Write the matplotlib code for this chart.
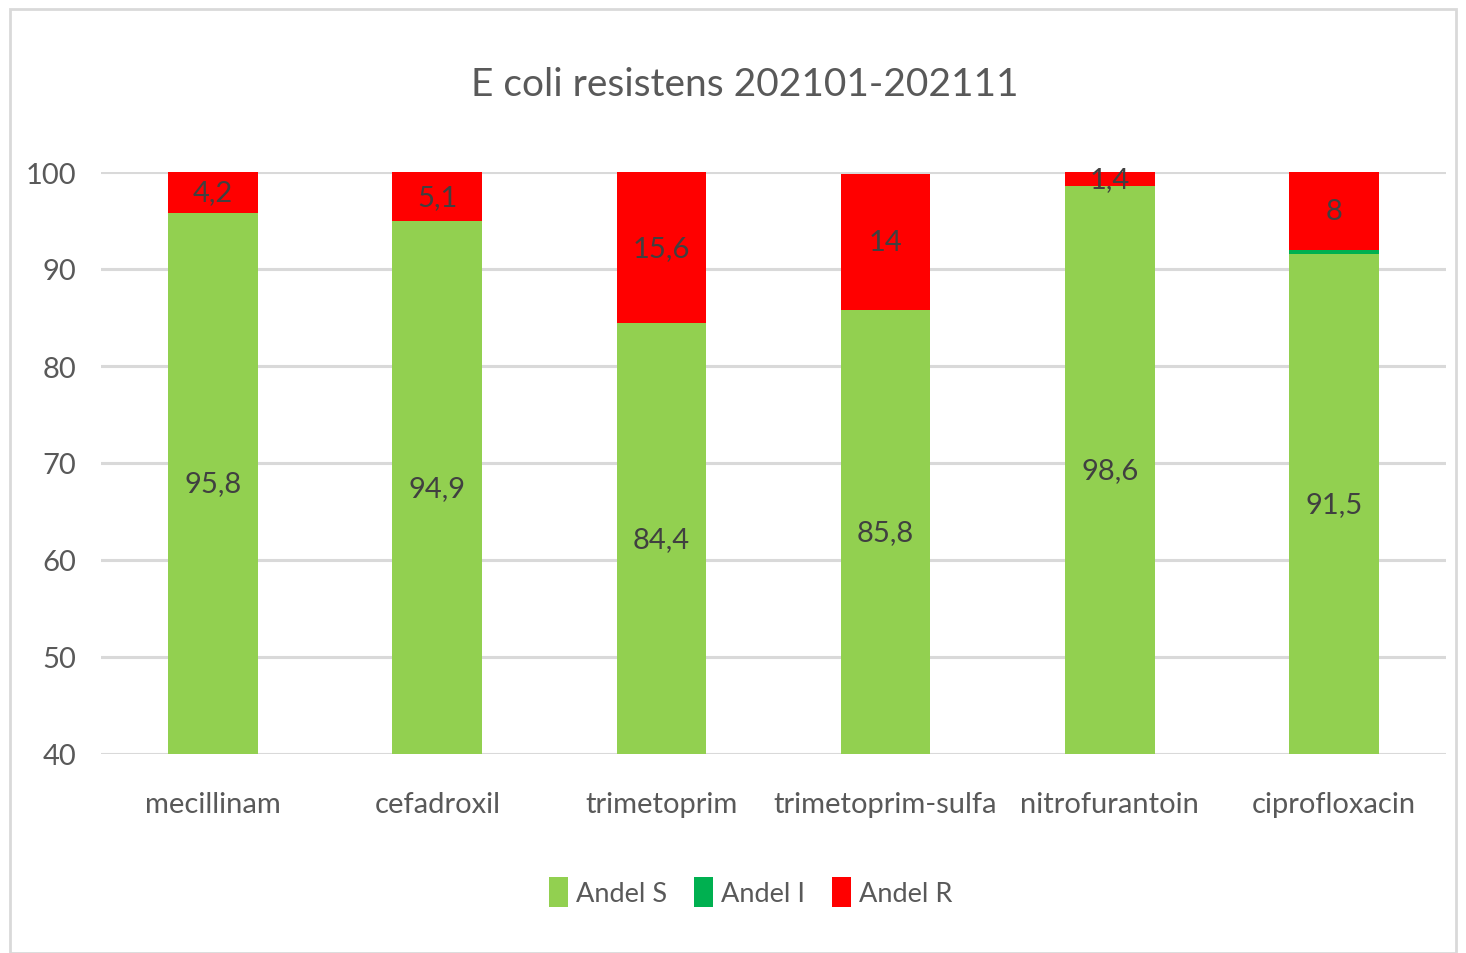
import matplotlib
matplotlib.use("Agg")
import matplotlib.pyplot as plt
import numpy as np
from matplotlib.patches import Rectangle

plt.rcParams['font.family'] = ['Lato', 'DejaVu Sans']

categories = ['mecillinam', 'cefadroxil', 'trimetoprim', 'trimetoprim-sulfa',
              'nitrofurantoin', 'ciprofloxacin']
andel_s = [95.8, 94.9, 84.4, 85.8, 98.6, 91.5]
andel_i = [0.0, 0.0, 0.0, 0.0, 0.0, 0.5]
andel_r = [4.2, 5.1, 15.6, 14, 1.4, 8]
series_names = ['Andel S', 'Andel I', 'Andel R']
colors = ['#92d050', '#00b050', '#ff0000']

fig = plt.figure(figsize=(14.66, 9.54), dpi=100)
ax = fig.add_axes([101 / 1466, 1 - 755 / 954, (1446 - 101) / 1466, (755 - 173) / 954])

x = np.arange(len(categories))
s = np.array(andel_s)
i = np.array(andel_i)
r = np.array(andel_r)
w = 0.4
ax.bar(x, s, w, color=colors[0], label=series_names[0], zorder=3)
ax.bar(x, i, w, bottom=s, color=colors[1], label=series_names[1], zorder=3)
ax.bar(x, r, w, bottom=s + i, color=colors[2], label=series_names[2], zorder=3)

ax.set_ylim(40, 100)
ax.set_xlim(-0.5, len(categories) - 0.5)
ax.set_yticks(range(40, 101, 10))
ax.set_xticks(x)
ax.set_xticklabels(categories)
ax.yaxis.grid(True, color='#d9d9d9', linewidth=2.2, zorder=0)
ax.tick_params(length=0, labelsize=21, colors='#595959')
ax.tick_params(axis='x', pad=27)
ax.tick_params(axis='y', pad=18)
for sp in ax.spines.values():
    sp.set_visible(False)

def fmt(v):
    return ('%g' % v).replace('.', ',')

for k in range(len(categories)):
    ax.text(x[k], 40 + (s[k] - 40) / 2, fmt(s[k]), ha='center', va='center',
            fontsize=21, color='#404040', zorder=4)
    ax.text(x[k], s[k] + i[k] + r[k] / 2, fmt(r[k]), ha='center', va='center',
            fontsize=21, color='#404040', zorder=4)

fig.text(0.508, 1 - 85 / 954, 'E coli resistens 202101-202111', ha='center', va='center',
         fontsize=28, color='#595959')

fig.legend(loc='center', bbox_to_anchor=(0.512, 1 - 893 / 954), ncol=3, frameon=False,
           fontsize=19.5, labelcolor='#595959', handlelength=0.7, handleheight=1.3,
           handletextpad=0.3, columnspacing=1.0)

fig.patches.append(Rectangle((10 / 1466, 0), 1 - 20 / 1466, 1 - 10 / 954,
                             transform=fig.transFigure, fill=False,
                             edgecolor='#d9d9d9', linewidth=2))

fig.savefig('out.png', dpi=100)
